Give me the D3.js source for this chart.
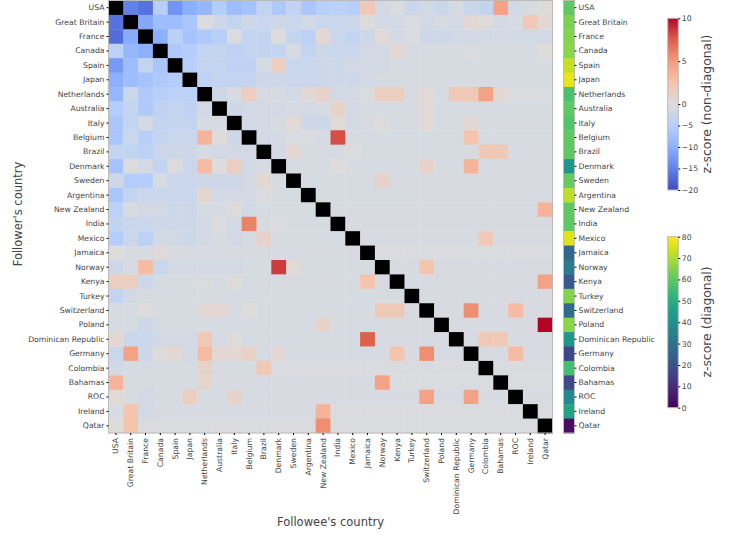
<!DOCTYPE html>
<html>
<head>
<meta charset="utf-8">
<script src="https://d3js.org/d3.v7.min.js"></script>
<style>
body { margin: 0; background: #fff; }
text { font-family: "DejaVu Sans", sans-serif; fill: #444; }
</style>
</head>
<body>
<script>
// countries, same order on both axes
const countries = ["USA","Great Britain","France","Canada","Spain","Japan","Netherlands","Australia","Italy","Belgium","Brazil","Denmark","Sweden","Argentina","New Zealand","India","Mexico","Jamaica","Norway","Kenya","Turkey","Switzerland","Poland","Dominican Republic","Germany","Colombia","Bahamas","ROC","Ireland","Qatar"];

// diagonal z-scores (viridis strip)
const diagZ = [60,64,65,66,73,77,57,60,58,60,60,42,61,72,60,60,76,27,33,22,65,28,66,42,17,56,18,38,47,3];

// off-diagonal z-scores, one row per follower country (null = diagonal)
const zUSA         = [null,-15,-16.5,-5,-13,-10,-9,-5.5,-8,-7,-3.5,-6,-3.5,-6.5,-5,-4.5,-5,2,-1.5,-0.5,-2.7,-1.5,-2.7,-1,-2.7,-3.5,4.5,-1.5,-1,0];
const zGreatBritain= [-16.5,null,-11,-8,-8,-6.5,-0.3,-2.2,-3.5,-2.2,-2.7,-2.2,-2.7,-1.5,-2.7,-2.7,-2.7,0,-1.5,-1.5,-0.5,-1.5,-1,-1.5,0.5,0,-1.5,-1,2,0.5];
const zFrance      = [-17,-10.5,null,-10,-4.5,-7,-6,-5,-0.5,-3.5,-3.5,-0.2,-3.5,-4.5,0.5,-2.7,-3.5,-2.2,0.3,-1.5,-0.5,-2.2,-2.2,-1.5,-1.5,-1.5,-1.5,-1.5,-1.5,-1.5];
const zCanada      = [-4.5,-9,-10,null,-6,-5.5,-3.5,-3.5,-4,-3.5,-3.5,-3.5,-1,-3.5,-2.2,-2.7,-2.7,-1.5,-1.5,0.5,-1,-1,-1,-1,-0.5,-1,-1,-1,-1,0];
const zSpain       = [-12.5,-8,-3.5,-6.5,null,-5,-3.5,-3.5,-4,-4,-1,1.5,-2.7,-2.7,-2.2,-2.2,-1.5,-1.5,-1.5,-1,-1,-1,-1,-1,-1,-1,-1,-1,-1,-1];
const zJapan       = [-10,-8,-7,-6,-5.5,null,-4,-3.5,-3.5,-3.5,-2.2,-2.2,-2.7,-2.7,-2.2,-2.2,-2.2,-1.5,-1,-1,-1,-1,-1,-1,-1,-1,-1,-1,-1,-1];
const zNetherlands = [-9,-2.7,-6,-5,-4.5,-4.5,null,-2.2,-1,1.5,-1,-1,-1.5,0.5,1,-1.5,-1.5,-0.5,1.5,1.5,-1,0.3,-1,2,2,4.5,0.5,-0.5,-0.5,-0.5];
const zAustralia   = [-5.5,-3.5,-6,-4,-3.5,-4,-1.5,null,-2.2,-1.5,-1.5,-1.5,-1,-1.5,-1,1,-1.5,-1,-1,-1,-1,0.3,-1,-1,-1,-1,-1,-1,-1,-1];
const zItaly       = [-6.5,-3.5,-1.5,-3.5,-3.5,-3.5,-1,-1,null,-1.5,-1.5,-1,0.3,-2.2,-2.2,0.3,-1.5,-1,0,-1,-1,0.3,-1,-1,0.5,-0.8,-0.8,-0.8,-0.8,-0.8];
const zBelgium     = [-6.5,-2.7,-5,-3.5,-2.7,-2.7,3.5,0,-2.2,null,-1.5,-1.5,-0.5,-0.5,-1,8,-1,-1,-1,-1,-1,-1,-1,-1,2.5,-1,-1,-1,-1,-1];
const zBrazil      = [-3.5,-3.5,-4.5,-2.7,-2.2,-2.2,-1,-1.5,-1.5,-1.5,null,-1.5,0.5,-1,-1,-1,-0.3,-1,-1,-1,-1,-1,-1,-1,-1,2,2,-0.8,-0.8,-0.8];
const zDenmark     = [-7,-0.3,-1.5,-3.5,-0.3,-2.7,3,0,1.5,-1.5,-1,null,-1,-1,-1,0,-1,-1,-1,-1,-1,1,-1,-1,3.5,-0.8,-0.8,-0.8,-0.8,-0.8];
const zSweden      = [-2.2,-5.5,-5.5,-1,-2.7,-2.7,-2.2,-2.2,-2.2,-1.5,0.5,-1,null,-1,-1,-1,-1,-1,1,-0.8,-0.8,-0.8,-0.8,-0.8,-0.8,-0.8,-0.8,-0.8,-0.8,-0.8];
const zArgentina   = [-6.5,-3.5,-2.7,-2.7,-2.7,-2.7,0.7,-1.5,-1.5,-1.5,-0.3,-1,-1,null,-1,-1,-1,-1,-1,-1,-0.8,-0.8,-0.8,-0.8,-0.8,-0.8,-0.8,-0.8,-0.8,-0.8];
const zNewZealand  = [-4.5,-1,-1.5,-1.5,-2.2,-2.2,-1,-1,0,-1.5,-1,-1,-1,-1,null,-0.8,-0.8,-0.8,-0.8,-0.8,-0.8,-0.8,-0.8,-0.8,-0.8,-0.8,-0.8,-0.8,-0.8,3.5];
const zIndia       = [-3.5,-2.7,-2.7,-2.2,-2.2,-2.2,-1.5,-0.3,-1.5,6,-1,-0.3,-1,-1,-1,null,-0.8,-0.8,-0.8,-0.8,-0.8,-0.8,-0.8,-0.8,-0.8,-0.8,-0.8,-0.8,-0.8,-0.8];
const zMexico      = [-5.5,-2.7,-4.5,-1.5,-1.5,-2.2,-1.5,-1,-1.5,-1,1,-1,-1,-1,-1,-1,null,-0.8,-0.8,-0.8,-0.8,-0.8,-0.8,-0.8,-0.8,2,-0.8,-0.8,-0.8,-0.8];
const zJamaica     = [0,-1,-1,0.3,-0.8,-0.8,-0.8,-0.8,-0.8,-0.8,-0.8,-0.8,-0.8,-0.8,-0.8,-0.8,-0.8,null,-0.6,-0.6,-0.6,-0.6,-0.6,-0.6,-0.6,-0.6,-0.6,-0.6,-0.6,-0.6];
const zNorway      = [-2.2,-1,3,-2.7,-1.5,-1.5,-1.5,-1.5,-1.5,-1,-1,8.5,0.3,-1,-1,-1,-1,-1,null,-0.8,-0.8,2.5,-0.8,-0.8,-0.8,-0.8,-0.8,-0.8,-0.8,-0.8];
const zKenya       = [1.5,1.5,-2.2,-1,-1,-1,-0.3,-1,0,-1,-0.8,-0.8,-0.8,-0.8,-0.8,-0.8,-0.8,2.5,-0.8,null,-0.8,-0.8,-0.8,-0.8,-0.8,-0.8,-0.8,-0.8,-0.8,4.5];
const zTurkey      = [-3.5,-1.5,-1,-1,-1,-1,-1,-1,-1,-1,-1,-1,-1,-1,-1,-1,-1,-1,-1,-1,null,-0.8,-0.8,-0.8,-0.8,-0.8,-0.8,-0.8,-0.8,-0.8];
const zSwitzerland = [-1,-1,0,-1,-1,-1,0.5,0.5,-1,0,-1,-1,-1,-1,-1,-1,-1,-1,2,2,-0.8,null,-0.8,-0.8,5.5,-0.8,-0.8,3,-0.8,-0.8];
const zPoland      = [-1,-1,-2.2,-1,-1,-1,-1,-1,-1,-1,-1,-1,-1,-1,1,-0.8,-0.8,-0.8,-0.8,-0.8,-0.8,-0.8,null,-0.8,-0.8,-0.8,-0.8,-0.8,-0.8,10];
const zDominican   = [0.5,-2.7,-2.7,-1.5,-1.5,-1.5,2,-1,0,-1,-1,-1,-1,-1,-1,-1,-1,7.5,-0.8,-0.8,-0.8,-0.8,-0.8,null,-0.8,2,2,-0.8,-0.8,-0.8];
const zGermany     = [-2.7,4.5,-2.2,0,0.5,-1.5,3,0.5,0.5,1,-1,0.5,-1,-1,-1,-1,-1,-1,-1,2.5,-0.8,5.5,-0.8,-0.8,null,-0.8,-0.8,3,-0.8,-0.8];
const zColombia    = [-1.5,-1,-1,-1,-1,-1,1,-1,-1,-1,2,-0.6,-0.6,-0.6,-0.6,-0.6,-0.6,-0.6,-0.6,-0.6,-0.6,-0.6,-0.6,-0.6,-0.6,null,-0.5,-0.5,-0.5,-0.5];
const zBahamas     = [3.5,-1,-1,-1,-1,-1,0.8,-0.8,-0.8,-0.8,-0.8,-0.8,-0.8,-0.8,-0.8,-0.8,-0.8,-0.8,4.5,-0.6,-0.6,-0.6,-0.6,-0.6,-0.6,-0.6,null,-0.6,-0.6,-0.6];
const zROC         = [0.3,-1,-1.5,-1,-1,1.5,-1,-1,1,-1,-0.8,-0.8,-0.8,-0.8,-0.8,-0.8,-0.8,-0.8,-0.8,-0.8,-0.8,4.5,-0.8,-0.8,4.5,-0.8,-0.8,null,-0.8,-0.8];
const zIreland     = [-1,2.5,-1.5,-0.8,-0.8,-0.8,-0.8,-0.8,-0.8,-0.8,-0.8,-0.8,-0.8,-0.8,3.5,-0.6,-0.6,-0.6,-0.6,-0.6,-0.6,-0.6,-0.6,-0.6,-0.6,-0.6,-0.6,-0.6,null,-0.6];
const zQatar       = [0,2.5,-0.6,-0.6,-0.6,-0.6,-0.6,-0.6,-0.6,-0.6,-0.6,-0.6,-0.6,-0.6,5.5,-0.5,-0.5,-0.5,-0.5,-0.5,-0.5,-0.5,-0.5,-0.5,-0.5,-0.5,-0.5,-0.5,-0.5,null];

const zRows = [zUSA,zGreatBritain,zFrance,zCanada,zSpain,zJapan,zNetherlands,zAustralia,zItaly,zBelgium,
               zBrazil,zDenmark,zSweden,zArgentina,zNewZealand,zIndia,zMexico,zJamaica,zNorway,zKenya,
               zTurkey,zSwitzerland,zPoland,zDominican,zGermany,zColombia,zBahamas,zROC,zIreland,zQatar];

const offTicks  = [10,5,0,-5,-10,-15,-20];
const diagTicks = [0,10,20,30,40,50,60,70,80];

const W = 731, H = 535;
const svg = d3.select("body").append("svg").attr("width", W).attr("height", H);

// coolwarm with two slopes (vmin -20, centre 0, vmax 10)
const coolwarm = d3.scaleLinear()
  .domain([-20,-15,-10,-5,0,2.5,5,7.5,10])
  .range(["#3b4cc0","#6282ea","#8db0fe","#b8d0f9","#dddcdb","#f5c4ad","#f49a7b","#de604d","#b40426"])
  .clamp(true);
const viridis = v => d3.interpolateViridis(v / 80);

// heatmap
const x = d3.scaleBand().domain(countries).range([108.5, 552.5]);
const y = d3.scaleBand().domain(countries).range([0.5, 433]);

const cells = [];
zRows.forEach((row, i) => row.forEach((v, j) => cells.push({r: countries[i], c: countries[j], v: v})));

svg.append("g").selectAll("rect").data(cells).join("rect")
  .attr("x", d => x(d.c))
  .attr("y", d => y(d.r))
  .attr("width", x.bandwidth() + 0.4)
  .attr("height", y.bandwidth() + 0.4)
  .attr("fill", d => d.v === null ? "#000" : coolwarm(d.v));

svg.append("rect")
  .attr("x", 108.5).attr("y", 0.5).attr("width", 444).attr("height", 432.5)
  .attr("fill", "none").attr("stroke", "#bbb");

const fs = "7.7px";

const yAxis = svg.append("g").attr("transform", "translate(108.5,0)")
  .call(d3.axisLeft(y).tickSize(2).tickPadding(2));
yAxis.select(".domain").remove();
yAxis.selectAll("text").style("font-size", fs);

const xAxis = svg.append("g").attr("transform", "translate(0,433)")
  .call(d3.axisBottom(x).tickSize(2).tickPadding(2));
xAxis.select(".domain").remove();
xAxis.selectAll("text")
  .style("font-size", fs)
  .attr("transform", "rotate(-90)")
  .attr("x", -5).attr("y", 0).attr("dy", "0.32em")
  .style("text-anchor", "end");

svg.append("text")
  .attr("transform", "translate(18,214) rotate(-90)")
  .attr("text-anchor", "middle").attr("dominant-baseline", "central")
  .style("font-size", "11.5px").text("Follower's country");

svg.append("text")
  .attr("x", 330.5).attr("y", 526)
  .attr("text-anchor", "middle")
  .style("font-size", "11.5px").text("Followee's country");

// diagonal strip
svg.append("g").selectAll("rect").data(countries).join("rect")
  .attr("x", 563.5).attr("y", d => y(d))
  .attr("width", 11).attr("height", y.bandwidth() + 0.4)
  .attr("fill", (d, i) => viridis(diagZ[i]));
svg.append("rect")
  .attr("x", 563.5).attr("y", 0.5).attr("width", 11).attr("height", 432.5)
  .attr("fill", "none").attr("stroke", "#bbb");
const sAxis = svg.append("g").attr("transform", "translate(574.5,0)")
  .call(d3.axisRight(y).tickSize(2).tickPadding(2));
sAxis.select(".domain").remove();
sAxis.selectAll("text").style("font-size", fs);

// colorbars
const defs = svg.append("defs");
function colorbar(id, top, bottom, domain, color, ticks, title, titleY, scaleDomain, scaleRange) {
  const grad = defs.append("linearGradient").attr("id", id)
    .attr("x1", 0).attr("y1", 1).attr("x2", 0).attr("y2", 0);
  const pos = d3.scaleLinear().domain(scaleDomain).range(scaleRange);
  d3.range(0, 101).forEach(k => {
    const py = bottom - (bottom - top) * k / 100;
    const v = pos.invert(py);
    grad.append("stop").attr("offset", k + "%").attr("stop-color", color(v));
  });
  svg.append("rect")
    .attr("x", 667.7).attr("y", top).attr("width", 10.6).attr("height", bottom - top)
    .attr("fill", `url(#${id})`).attr("stroke", "#bbb");
  const ax = svg.append("g").attr("transform", "translate(678.3,0)")
    .call(d3.axisRight(pos).tickValues(ticks).tickSize(2).tickPadding(1.5));
  ax.select(".domain").remove();
  ax.selectAll("text").style("font-size", fs);
  svg.append("text")
    .attr("transform", `translate(706,${titleY}) rotate(-90)`)
    .attr("text-anchor", "middle").attr("dominant-baseline", "central")
    .style("font-size", "12.4px").text(title);
}

colorbar("cw", 18.3, 190, [-20, 10], coolwarm, offTicks, "z-score (non-diagonal)", 104,
         [-20, 0, 10], [190, 104, 18.3]);
colorbar("vir", 236.7, 407.7, [0, 80], viridis, diagTicks, "z-score (diagonal)", 322,
         [0, 80], [407.7, 236.7]);
</script>
</body>
</html>
